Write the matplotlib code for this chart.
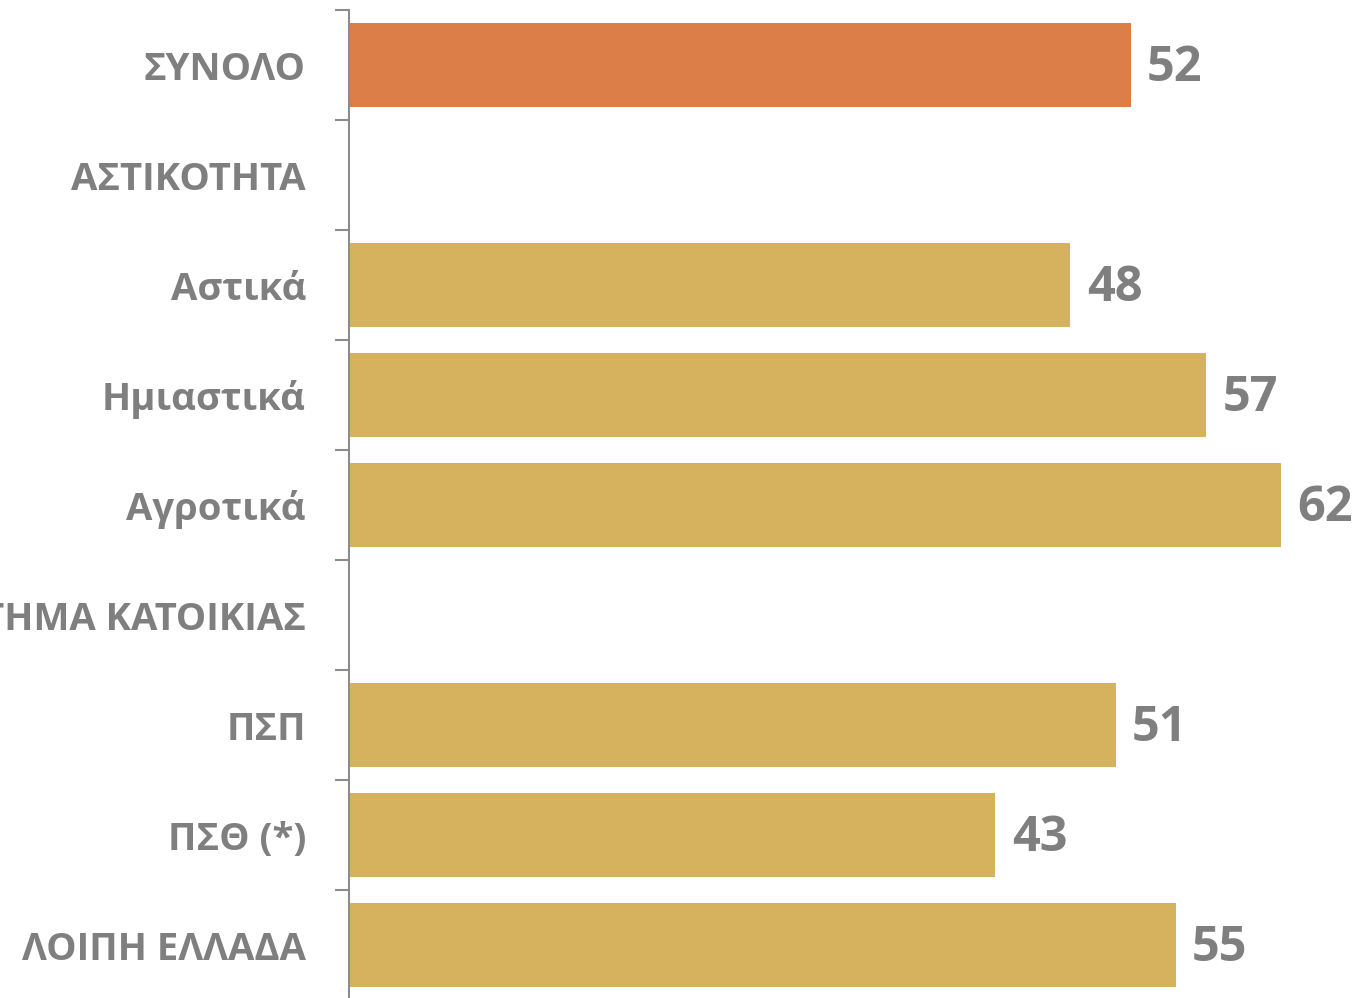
import numpy as np
import matplotlib
matplotlib.use('Agg')
from matplotlib import pyplot as plt

plt.rcParams['font.family'] = ['Open Sans', 'DejaVu Sans']

# δεδομένα
labels = ['ΣΥΝΟΛΟ', 'ΑΣΤΙΚΟΤΗΤΑ', 'Αστικά', 'Ημιαστικά', 'Αγροτικά',
          'ΣΥΣΤΗΜΑ ΚΑΤΟΙΚΙΑΣ', 'ΠΣΠ', 'ΠΣΘ (*)', 'ΛΟΙΠΗ ΕΛΛΑΔΑ']
values = [52, np.nan, 48, 57, 62, np.nan, 51, 43, 55]
colors = ['#DC7E48'] + ['#D7B25E'] * 8

text_color = '#7F7F7F'
axis_color = '#8C8C8C'

fig = plt.figure(figsize=(13.71, 9.98), dpi=100)
ax = fig.add_axes([349 / 1371, -2 / 998, 1 - 349 / 1371, 990 / 998])

y = np.arange(len(labels))
vals = np.nan_to_num(values)
ax.barh(y, vals, height=0.77, color=colors)

for yi, v in zip(y, values):
    if not np.isnan(v):
        ax.text(v + 1.1, yi + 0.03, '%d' % v, va='center', ha='left',
                fontsize=35, fontweight='bold', color=text_color)

ax.set_xlim(0, 68)
ax.set_ylim(len(labels) - 0.5, -0.5)

ax.set_yticks(y)
ax.set_yticklabels(labels, fontsize=27.5, fontweight='bold', color=text_color)
ax.tick_params(axis='y', which='major', length=0, pad=31)
ax.set_yticks(np.arange(len(labels) + 1) - 0.5, minor=True)
ax.tick_params(axis='y', which='minor', length=10, width=1.5, color=axis_color, direction='out')
ax.set_xticks([])

for s in ['top', 'right', 'bottom']:
    ax.spines[s].set_visible(False)
ax.spines['left'].set_color(axis_color)
ax.spines['left'].set_linewidth(1.5)

fig.savefig('out.png', dpi=100)
